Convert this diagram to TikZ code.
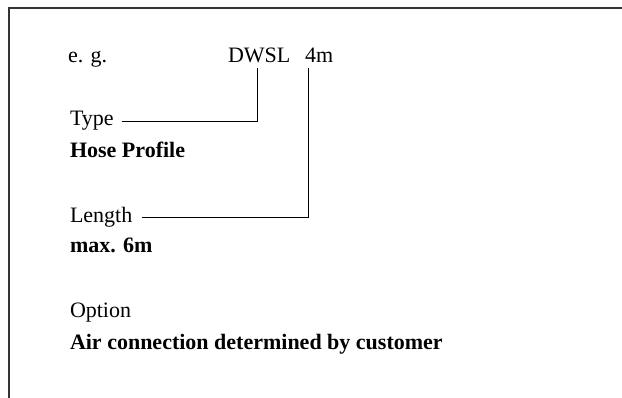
\documentclass[tikz,border=0pt]{standalone}
\usepackage{fontspec}
\setmainfont{Liberation Serif}
\usetikzlibrary{positioning}

\begin{document}
\begin{tikzpicture}[x=1pt,y=-1pt]
\tikzstyle{label}=[inner sep=0pt,outer sep=0pt,anchor=base west,
	font=\fontsize{22}{26}\selectfont]
\tikzstyle{value}=[label,font=\fontsize{22}{26}\selectfont\bfseries]
\tikzstyle{conn}=[line width=0.9pt,black]
\useasboundingbox (0,0) rectangle (622,398);
\draw[line width=1.6pt,black!80] (9,398) -- (9,8) -- (622,8);
\node[label] (eg) at (68,63) {e. g.};
\node[label] (typecode) at (228,63) {DWSL};
\node[label] (lencode) at (305,63) {4m};
\node[label] (type) at (70,126) {Type};
\node[value] (hose) at (70,158) {Hose Profile};
\node[label] (length) at (70,223) {Length};
\node[value] (maxlen) at (70,253) {max. 6m};
\node[label] (option) at (70,318) {Option};
\node[value] (air) at (70,350) {Air connection determined by customer};
\coordinate (typetap) at (257,68);
\coordinate (lentap) at (308,68);
\draw[conn] ([xshift=8pt]type.east) -| (typetap);
\draw[conn] ([xshift=10pt]length.east) -| (lentap);

\end{tikzpicture}
\end{document}
